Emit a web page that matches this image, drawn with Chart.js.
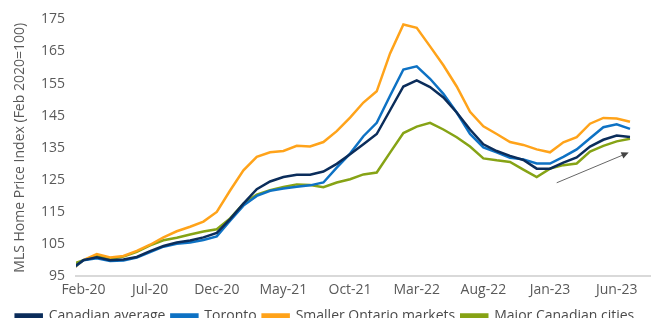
<!DOCTYPE html>
<html lang="en">
<head>
  <meta charset="UTF-8" />
  <title>MLS Home Price Index</title>
  <script src="https://cdn.jsdelivr.net/npm/chart.js"></script>
  <style>
    html, body { margin: 0; padding: 0; background: #fff; }
    #wrap { width: 656px; height: 318px; }
  </style>
</head>
<body>
  <div id="wrap"><canvas id="hpi"></canvas></div>

  <script>
    const months = [
      'Jan-20', 'Feb-20', 'Mar-20', 'Apr-20', 'May-20', 'Jun-20', 'Jul-20', 'Aug-20', 'Sep-20', 'Oct-20', 'Nov-20', 'Dec-20',
      'Jan-21', 'Feb-21', 'Mar-21', 'Apr-21', 'May-21', 'Jun-21', 'Jul-21', 'Aug-21', 'Sep-21', 'Oct-21', 'Nov-21', 'Dec-21',
      'Jan-22', 'Feb-22', 'Mar-22', 'Apr-22', 'May-22', 'Jun-22', 'Jul-22', 'Aug-22', 'Sep-22', 'Oct-22', 'Nov-22', 'Dec-22',
      'Jan-23', 'Feb-23', 'Mar-23', 'Apr-23', 'May-23', 'Jun-23', 'Jul-23'
    ]
    const tickMonths = ['Feb-20', 'Jul-20', 'Dec-20', 'May-21', 'Oct-21', 'Mar-22', 'Aug-22', 'Jan-23', 'Jun-23']

    const canadianAvg = [
      97.0, 100.0, 100.9, 100.0, 100.2, 101.0, 102.8, 104.4, 105.5, 106.1, 107.1, 108.5,
      112.8, 117.6, 122.1, 124.5, 125.9, 126.6, 126.6, 127.6, 130.0, 133.0, 136.1, 139.3,
      146.7, 154.1, 156.0, 153.9, 150.7, 146.0, 140.7, 136.1, 134.0, 132.5, 131.2, 128.5,
      128.5, 130.4, 132.0, 135.4, 137.5, 138.8, 138.4
    ]
    const toronto = [
      96.8, 100.0, 100.6, 99.7, 99.9, 100.8, 102.5, 104.2, 105.1, 105.5, 106.3, 107.4,
      112.3, 117.0, 120.0, 121.6, 122.3, 122.9, 123.3, 124.2, 128.8, 133.2, 138.6, 142.8,
      151.2, 159.4, 160.4, 156.5, 151.8, 146.0, 139.3, 135.1, 133.6, 131.9, 131.4, 130.1,
      130.1, 132.2, 134.5, 138.0, 141.4, 142.3, 140.9
    ]
    const smallerOntario = [
      96.5, 100.0, 101.9, 100.8, 101.3, 102.9, 104.8, 107.1, 109.0, 110.4, 112.0, 115.0,
      121.7, 128.0, 132.2, 133.6, 134.0, 135.6, 135.4, 136.8, 140.2, 144.4, 149.1, 152.6,
      164.4, 173.4, 172.4, 166.6, 160.7, 154.1, 146.2, 141.7, 139.3, 136.8, 135.9, 134.5,
      133.6, 136.7, 138.3, 142.5, 144.3, 144.1, 143.1
    ]
    const majorCities = [
      98.5, 100.0, 101.3, 100.4, 101.1, 102.6, 104.6, 106.2, 107.0, 108.0, 108.9, 109.6,
      113.0, 117.6, 120.4, 121.8, 122.8, 123.6, 123.4, 122.7, 124.2, 125.2, 126.7, 127.3,
      133.5, 139.6, 141.6, 142.8, 140.7, 138.3, 135.4, 131.7, 131.1, 130.6, 128.2, 125.9,
      128.5, 129.6, 130.1, 133.8, 135.6, 137.0, 137.8
    ]

    const toPoints = (values) => values.map((v, i) => ({ x: i, y: v }))

    function line(label, values, color) {
      return {
        label: label,
        data: toPoints(values),
        borderColor: color,
        backgroundColor: color,
        borderWidth: 2.5,
        pointRadius: 0,
        tension: 0
      }
    }

    // small trend arrow bottom right, in data units (month index, index value)
    const arrowFrom = { x: 36.5, y: 124.1 }
    const arrowTo = { x: 41.9, y: 133.5 }

    const trendArrow = {
      id: 'trendArrow',
      afterDatasetsDraw(chart) {
        const { ctx, scales } = chart
        const x1 = scales.x.getPixelForValue(arrowFrom.x)
        const y1 = scales.y.getPixelForValue(arrowFrom.y)
        const x2 = scales.x.getPixelForValue(arrowTo.x)
        const y2 = scales.y.getPixelForValue(arrowTo.y)
        const ang = Math.atan2(y2 - y1, x2 - x1)
        const head = 8
        ctx.save()
        ctx.strokeStyle = '#666'
        ctx.fillStyle = '#444'
        ctx.lineWidth = 1
        ctx.beginPath()
        ctx.moveTo(x1, y1)
        ctx.lineTo(x2 - Math.cos(ang) * head * 0.8, y2 - Math.sin(ang) * head * 0.8)
        ctx.stroke()
        ctx.beginPath()
        ctx.moveTo(x2, y2)
        ctx.lineTo(x2 - head * Math.cos(ang - 0.45), y2 - head * Math.sin(ang - 0.45))
        ctx.lineTo(x2 - head * Math.cos(ang + 0.45), y2 - head * Math.sin(ang + 0.45))
        ctx.closePath()
        ctx.fill()
        ctx.restore()
      }
    }

    Chart.defaults.font.family = "'Open Sans', sans-serif"
    Chart.defaults.color = '#595959'

    new Chart(document.getElementById('hpi'), {
      type: 'line',
      data: {
        datasets: [
          line('Canadian average', canadianAvg, '#0b2d5b'),
          line('Toronto', toronto, '#0e72c4'),
          line('Smaller Ontario markets', smallerOntario, '#ffa31a'),
          line('Major Canadian cities', majorCities, '#86a315')
        ]
      },
      options: {
        responsive: true,
        maintainAspectRatio: false,
        animation: false,
        layout: { padding: { left: 0, right: 6, top: 16, bottom: -15 } },
        plugins: {
          legend: {
            position: 'bottom',
            labels: {
              boxWidth: 26,
              boxHeight: 3,
              padding: 6,
              color: '#4a4a4a',
              font: { size: 14 }
            }
          },
          tooltip: { enabled: false }
        },
        scales: {
          x: {
            type: 'linear',
            min: 0.44,
            max: 43.5,
            grid: { display: false, drawTicks: false },
            border: { color: '#d9d9d9', width: 2 },
            afterBuildTicks: (scale) => {
              scale.ticks = tickMonths.map(m => ({ value: months.indexOf(m) }))
            },
            ticks: {
              padding: 5,
              maxRotation: 0,
              autoSkip: false,
              font: { size: 14 },
              callback: (v) => months[v]
            }
          },
          y: {
            min: 95,
            max: 175,
            grid: { display: false, drawTicks: false },
            border: { display: false },
            afterFit: (scale) => { scale.width = 76 },
            ticks: {
              stepSize: 10,
              padding: 11,
              font: { size: 14 }
            },
            title: {
              display: true,
              text: 'MLS Home Price Index (Feb 2020=100)',
              font: { size: 14 },
              padding: { top: 12, bottom: 4 }
            }
          }
        }
      },
      plugins: [trendArrow]
    })
  </script>
</body>
</html>
